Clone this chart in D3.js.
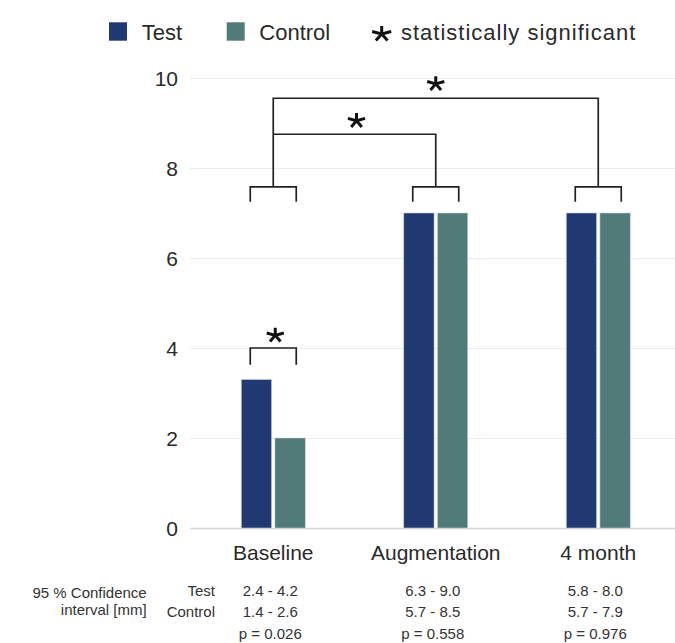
<!DOCTYPE html>
<html>
<head>
<meta charset="utf-8">
<script src="https://cdn.jsdelivr.net/npm/d3@7"></script>
<style>
  html, body { margin: 0; padding: 0; background: #fff; }
  svg { display: block; font-family: "Liberation Sans", Arial, sans-serif; }
</style>
</head>
<body>
<svg id="chart" width="675" height="643"></svg>
<script>
// ---- data ----
const categories = ["Baseline", "Augmentation", "4 month"];
const series = ["Test", "Control"];
const testValues = [3.3, 7.0, 7.0];
const controlValues = [2.0, 7.0, 7.0];
const yTicks = [0, 2, 4, 6, 8, 10];
const ciTest = ["2.4 - 4.2", "6.3 - 9.0", "5.8 - 8.0"];
const ciControl = ["1.4 - 2.6", "5.7 - 8.5", "5.7 - 7.9"];
const pValues = ["p = 0.026", "p = 0.558", "p = 0.976"];
const colors = { Test: "#213972", Control: "#507b78" };

// ---- layout ----
const svg = d3.select("#chart");
const W = 675;
const plotLeft = 190;

const x = d3.scaleBand().domain(categories).range([192, 679.5]).paddingInner(0).paddingOuter(0);
const xs = d3.scaleBand().domain(series).range([-32, 32]).paddingInner(0.1);
const y = d3.scaleLinear().domain([0, 10]).range([528, 78]);
const cx = c => x(c) + x.bandwidth() / 2;

// ---- grid + y axis ----
const yAxis = d3.axisLeft(y).tickValues(yTicks).tickSize(-(W - plotLeft)).tickPadding(12).tickFormat(d3.format("d"));
const gy = svg.append("g").attr("transform", `translate(${plotLeft},0)`).call(yAxis);
gy.select(".domain").remove();
gy.selectAll(".tick line").attr("stroke", d => d === 0 ? "#d6d6d6" : "#ececec").attr("stroke-width", d => d === 0 ? 1.6 : 1);
gy.selectAll(".tick text").attr("fill", "#2a2a2a").style("font-size", "21px").style("font-family", "Liberation Sans, Arial, sans-serif").attr("dy", "0.38em");

// ---- bars ----
const rows = categories.map((c, i) => ({ cat: c, Test: testValues[i], Control: controlValues[i] }));
const groups = svg.append("g").selectAll("g").data(rows).join("g")
  .attr("transform", d => `translate(${cx(d.cat)},0)`);
groups.selectAll("rect").data(d => series.map(s => ({ s, v: d[s] }))).join("rect")
  .attr("x", d => xs(d.s))
  .attr("width", xs.bandwidth())
  .attr("y", d => y(d.v))
  .attr("height", d => y(0) - y(d.v))
  .attr("fill", d => colors[d.s])
  .attr("stroke", "#c9d0d6").attr("stroke-width", 0.6);

// ---- x axis labels ----
const xAxis = d3.axisBottom(x).tickSize(0);
const gx = svg.append("g").attr("transform", `translate(0,${y(0)})`).call(xAxis);
gx.select(".domain").remove();
gx.selectAll(".tick text").attr("y", 32).attr("dy", 0).attr("fill", "#2a2a2a")
  .style("font-size", "21px").style("font-family", "Liberation Sans, Arial, sans-serif");

// ---- significance brackets ----
const line = svg.append("g").attr("fill", "none").attr("stroke", "#222").attr("stroke-width", 1.7);
const legHalf = 23;
function bracket(c, top, bottom) {
  const m = cx(c);
  line.append("path").attr("d", `M${m - legHalf},${y(bottom)}V${y(top)}H${m + legHalf}V${y(bottom)}`);
}
bracket("Baseline", 4.0, 3.63);
categories.forEach(c => bracket(c, 7.58, 7.25));
const bX = cx("Baseline"), aX = cx("Augmentation"), mX = cx("4 month");
line.append("path").attr("d", `M${bX},${y(7.58)}V${y(9.55)}H${mX}V${y(7.58)}`);
line.append("path").attr("d", `M${bX},${y(8.75)}H${aX}V${y(7.58)}`);

// ---- stars ----
function star(g, px, py, r, sy) {
  const d = d3.range(5).map(k => {
    const a = (-90 + k * 72) * Math.PI / 180;
    return `M${px},${py}L${px + r * Math.cos(a)},${py + r * Math.sin(a) * sy}`;
  }).join("");
  g.append("path").attr("d", d).attr("stroke", "#111").attr("stroke-width", 3).attr("fill", "none");
}
const stars = svg.append("g");
star(stars, cx("Baseline") + 2, y(4.28), 9, 0.85);
star(stars, (bX + aX) / 2 + 2, y(9.05), 9, 0.85);
star(stars, (bX + mX) / 2, y(9.87), 9, 0.85);

// ---- legend ----
const lg = svg.append("g").style("font-size", "22px").attr("fill", "#2a2a2a");
lg.append("rect").attr("x", 109).attr("y", 22.3).attr("width", 18).attr("height", 18.4).attr("fill", colors.Test);
lg.append("text").attr("x", 141.7).attr("y", 40).text("Test");
lg.append("rect").attr("x", 226.7).attr("y", 22.3).attr("width", 18).attr("height", 18.4).attr("fill", colors.Control);
lg.append("text").attr("x", 259.3).attr("y", 40).text("Control");
star(lg, 381.7, 34, 10, 0.8);
lg.append("text").attr("x", 401).attr("y", 40).style("letter-spacing", "1px").text("statistically significant");

// ---- confidence interval table ----
const tb = svg.append("g").style("font-size", "15px").attr("fill", "#333");
tb.append("text").attr("x", 146.7).attr("y", 598).attr("text-anchor", "end").text("95 % Confidence");
tb.append("text").attr("x", 146.7).attr("y", 615).attr("text-anchor", "end").text("interval [mm]");
tb.append("text").attr("x", 215).attr("y", 596).attr("text-anchor", "end").text(series[0]);
tb.append("text").attr("x", 215).attr("y", 617).attr("text-anchor", "end").text(series[1]);
const colX = c => cx(c) - 3;
[ciTest, ciControl, pValues].forEach((arr, r) => {
  tb.selectAll(null).data(arr).join("text")
    .attr("x", (d, i) => colX(categories[i]))
    .attr("y", [596, 617, 639][r])
    .attr("text-anchor", "middle")
    .text(d => d);
});
</script>
</body>
</html>
